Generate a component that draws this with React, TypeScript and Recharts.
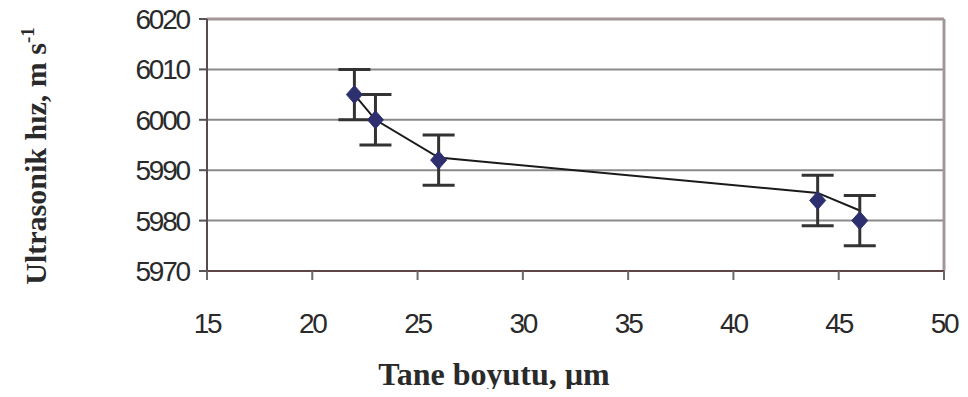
import {
  ComposedChart,
  CartesianGrid,
  ErrorBar,
  Line,
  ReferenceLine,
  Scatter,
  XAxis,
  YAxis,
} from "recharts";

const grainSize = [22, 23, 26, 44, 46];
const velocity = [6005, 6000, 5992, 5984, 5980];
const velocityErr = [5, 5, 5, 5, 5];
const trendValues = [6005, 6000, 5992.5, 5985.5, 5982];
const xTicks = [15, 20, 25, 30, 35, 40, 45, 50];
const yTicks = [5970, 5980, 5990, 6000, 6010, 6020];

const points = grainSize.map((x, i) => ({ x, y: velocity[i], err: velocityErr[i] }));
const trend = grainSize.map((x, i) => ({ x, fit: trendValues[i] }));

const tickFont = {
  fontFamily: "'Liberation Sans', Arial, sans-serif",
  fontSize: 28,
  letterSpacing: -2.2,
  fill: "#2a2a2a",
};

const titleFont = {
  fontFamily: "'Liberation Serif', 'Times New Roman', serif",
  fontWeight: 700,
  fill: "#2a2a2a",
};

function Diamond(props: any) {
  const { cx, cy } = props;
  if (cx == null || cy == null) return null;
  const w = 8;
  const h = 9;
  return (
    <polygon
      points={`${cx},${cy - h} ${cx + w},${cy} ${cx},${cy + h} ${cx - w},${cy}`}
      fill="#2d2f6e"
      stroke="#2d2f6e"
    />
  );
}

export default function App() {
  return (
    <div style={{ margin: -8, background: "#fff" }}>
      <ComposedChart
        width={968}
        height={397}
        margin={{ top: 19, right: 24, bottom: 36, left: 0 }}
      >
        <CartesianGrid vertical={false} stroke="#8a8a8a" strokeWidth={2} />
        <XAxis
          type="number"
          dataKey="x"
          domain={[15, 50]}
          ticks={xTicks}
          allowDataOverflow
          height={90}
          axisLine={{ stroke: "#5e4646", strokeWidth: 2 }}
          tickLine={{ stroke: "#6a6a6a", strokeWidth: 2 }}
          tickSize={9}
          tickMargin={33}
          tick={tickFont}
          label={{
            content: () => (
              <text x={494} y={385} textAnchor="middle" fontSize={32} style={titleFont}>
                Tane boyutu, µm
              </text>
            ),
          }}
        />
        <YAxis
          type="number"
          domain={[5970, 6020]}
          ticks={yTicks}
          allowDataOverflow
          width={207}
          axisLine={{ stroke: "#5a4a4a", strokeWidth: 2 }}
          tickLine={{ stroke: "#555", strokeWidth: 2 }}
          tickSize={8}
          tickMargin={10}
          tick={tickFont}
          label={{
            content: () => (
              <text
                x={0}
                y={0}
                transform="translate(46,156) rotate(-90)"
                textAnchor="middle"
                fontSize={30}
                style={titleFont}
              >
                Ultrasonik hız, m s
                <tspan dy={-12} fontSize={19}>
                  -1
                </tspan>
              </text>
            ),
          }}
        />
        <ReferenceLine y={6020} stroke="#a39696" strokeWidth={3} />
        <ReferenceLine x={50} stroke="#a39696" strokeWidth={3} />
        <Line
          data={trend}
          dataKey="fit"
          type="linear"
          stroke="#1a1a1a"
          strokeWidth={2}
          dot={false}
          activeDot={false}
          isAnimationActive={false}
        />
        <Scatter
          data={points}
          dataKey="y"
          shape={<Diamond />}
          isAnimationActive={false}
        >
          <ErrorBar
            dataKey="err"
            direction="y"
            width={16}
            stroke="#333"
            strokeWidth={3}
          />
        </Scatter>
      </ComposedChart>
    </div>
  );
}
